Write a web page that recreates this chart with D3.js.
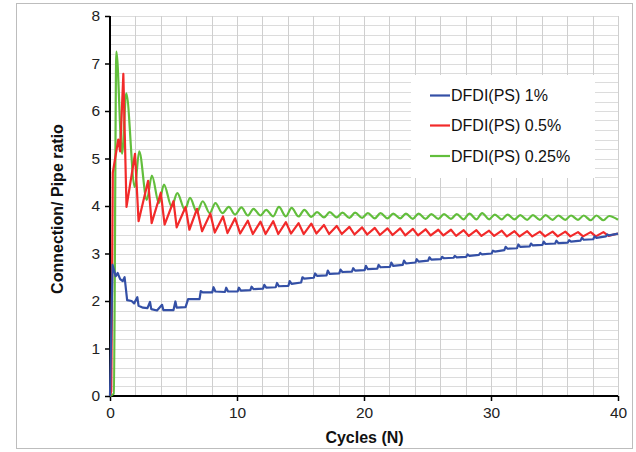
<!DOCTYPE html>
<html><head><meta charset="utf-8">
<script src="https://cdn.jsdelivr.net/npm/d3@7"></script>
<style>body{margin:0;background:#fff}svg{display:block}text{font-family:"Liberation Sans",Arial,sans-serif}</style>
</head><body>
<svg id="c" width="636" height="452"></svg>
<script>
const xTicks = [0, 10, 20, 30, 40];
const yTicks = [0, 1, 2, 3, 4, 5, 6, 7, 8];
const seriesNames = ["DFDI(PS) 1%", "DFDI(PS) 0.5%", "DFDI(PS) 0.25%"];
const seriesColors = ["#3450a6", "#f22a2a", "#62be3c"];

const blue = [[0,0],[0.2,2.76],[0.45,2.52],[0.6,2.59],[0.8,2.46],[1.0,2.42],[1.15,2.5],[1.35,2.02],[1.7,2.0],[1.9,1.95],[2.15,2.08],[2.25,1.9],[2.6,1.86],[2.95,1.85],[3.15,1.98],[3.25,1.83],[3.7,1.8],[4.1,1.92],[4.2,1.81],[5.0,1.81],[5.15,1.99],[5.25,1.86],[5.95,1.87],[6.15,2.04],[7.05,2.04],[7.15,2.21],[7.3,2.18],[8.05,2.18],[8.15,2.29],[8.3,2.2],[9.05,2.19],[9.15,2.28],[9.3,2.2],[10.05,2.2],[10.15,2.28],[10.3,2.22],[11.05,2.23],[11.15,2.3],[11.3,2.25],[12.05,2.26],[12.15,2.34],[12.3,2.28],[13.05,2.29],[13.15,2.38],[13.3,2.31],[14.05,2.32],[14.15,2.42],[14.3,2.36],[15.05,2.39],[15.15,2.5],[15.3,2.47],[16.05,2.49],[16.15,2.58],[16.3,2.53],[17.05,2.54],[17.15,2.64],[17.3,2.57],[18.05,2.58],[18.15,2.66],[18.3,2.61],[19.05,2.62],[19.15,2.69],[19.3,2.64],[20.05,2.65],[20.15,2.74],[20.3,2.67],[21.05,2.68],[21.15,2.76],[21.3,2.71],[22.05,2.72],[22.15,2.81],[22.3,2.74],[23.05,2.76],[23.15,2.85],[23.3,2.79],[24.05,2.81],[24.15,2.88],[24.3,2.83],[25.05,2.85],[25.15,2.92],[25.3,2.87],[26.05,2.88],[26.15,2.93],[26.3,2.9],[27.05,2.91],[27.15,2.95],[27.3,2.92],[28.05,2.93],[28.15,2.98],[28.3,2.95],[29.05,2.97],[29.15,3.01],[29.3,2.98],[30.05,3.0],[30.15,3.06],[30.3,3.04],[31.05,3.07],[31.15,3.14],[31.3,3.1],[32.05,3.11],[32.15,3.19],[32.3,3.14],[33.05,3.15],[33.15,3.21],[33.3,3.17],[34.05,3.18],[34.15,3.25],[34.3,3.2],[35.05,3.21],[35.15,3.27],[35.3,3.22],[36.05,3.23],[36.15,3.28],[36.3,3.25],[37.05,3.27],[37.15,3.33],[37.3,3.29],[38.05,3.3],[38.15,3.36],[38.3,3.33],[39.05,3.36],[39.15,3.4],[39.3,3.38],[40,3.42]];

const red = [[0,0],[0.1,0.1],[0.22,4.7],[0.65,5.4],[0.8,5.15],[1.05,6.78],[1.3,3.98],[1.97,5.1],[2.25,3.68],[3.0,4.53],[3.28,3.64],[4.0,4.28],[4.3,3.61],[5.0,4.1],[5.25,3.55],[5.95,3.98],[6.25,3.5],[6.85,3.94],[7.25,3.47],[7.9,3.84],[8.25,3.44],[8.9,3.78],[9.25,3.43],[9.85,3.74],[10.25,3.42],[10.85,3.69],[11.25,3.41],[11.85,3.67],[12.25,3.41],[12.85,3.68],[13.25,3.41],[13.85,3.66],[14.25,3.42],[14.85,3.64],[15.25,3.41],[15.85,3.63],[16.25,3.42],[16.85,3.6],[17.25,3.41],[17.85,3.58],[18.25,3.41],[18.85,3.56],[19.25,3.4],[19.85,3.55],[20.25,3.4],[20.85,3.54],[21.25,3.39],[21.85,3.53],[22.25,3.39],[22.85,3.53],[23.25,3.38],[23.85,3.52],[24.25,3.38],[24.85,3.51],[25.25,3.38],[25.85,3.5],[26.25,3.38],[26.85,3.5],[27.25,3.37],[27.85,3.49],[28.25,3.37],[28.85,3.49],[29.25,3.37],[29.85,3.48],[30.25,3.37],[30.85,3.48],[31.25,3.36],[31.85,3.47],[32.25,3.36],[32.85,3.47],[33.25,3.36],[33.85,3.46],[34.25,3.36],[34.85,3.46],[35.25,3.36],[35.85,3.46],[36.25,3.36],[36.85,3.45],[37.25,3.36],[37.85,3.45],[38.25,3.36],[38.85,3.45],[39.25,3.37],[40,3.42]];

const green = [[0,0],[0.3,0.05],[0.5,7.25],[0.95,5.1],[1.28,6.37],[1.95,4.4],[2.3,5.15],[2.9,4.13],[3.3,4.64],[3.85,4.06],[4.25,4.45],[4.85,3.99],[5.3,4.27],[5.9,3.92],[6.3,4.17],[6.85,3.87],[7.3,4.1],[7.85,3.85],[8.3,4.06],[8.85,3.85],[9.35,3.98],[9.85,3.82],[10.35,3.97],[10.85,3.8],[11.3,3.94],[11.85,3.8],[12.3,3.92],[12.85,3.78],[13.3,3.98],[13.85,3.78],[14.3,3.96],[14.85,3.78],[15.3,3.92],[15.85,3.77],[16.3,3.87],[16.85,3.76],[17.3,3.87],[17.85,3.76],[18.3,3.86],[18.85,3.75],[19.3,3.86],[19.85,3.75],[20.3,3.85],[20.85,3.74],[21.3,3.85],[21.85,3.74],[22.3,3.84],[22.85,3.74],[23.3,3.84],[23.85,3.73],[24.3,3.84],[24.85,3.73],[25.3,3.83],[25.85,3.73],[26.3,3.83],[26.85,3.73],[27.3,3.83],[27.85,3.72],[28.3,3.84],[28.85,3.72],[29.3,3.85],[29.85,3.72],[30.3,3.82],[30.85,3.72],[31.3,3.82],[31.85,3.72],[32.3,3.81],[32.85,3.71],[33.3,3.81],[33.85,3.71],[34.3,3.81],[34.85,3.71],[35.3,3.8],[35.85,3.71],[36.3,3.8],[36.85,3.71],[37.3,3.8],[37.85,3.7],[38.3,3.8],[38.85,3.7],[39.3,3.79],[40,3.71]];

const svg = d3.select("#c");
const x = d3.scaleLinear().domain([0, 40]).range([110, 618]);
const y = d3.scaleLinear().domain([0, 8]).range([396, 16]);

// outer border
svg.append("rect").attr("x", 16.5).attr("y", 3.5).attr("width", 616).attr("height", 445)
  .attr("fill", "#fff").attr("stroke", "#bdbdbd").attr("stroke-width", 1);

// grid
const g = svg.append("g");
g.selectAll(".hm").data(d3.range(1, 41).map(i => i * 0.2)).join("line")
  .attr("x1", x(0)).attr("x2", x(40))
  .attr("y1", d => Math.round(y(d)) + 0.5).attr("y2", d => Math.round(y(d)) + 0.5)
  .attr("stroke", "#dcdcdc").attr("stroke-width", 1);
g.selectAll(".vm").data(d3.range(1, 21).map(i => i * 2)).join("line")
  .attr("y1", y(0)).attr("y2", y(8))
  .attr("x1", d => Math.round(x(d)) + 0.5).attr("x2", d => Math.round(x(d)) + 0.5)
  .attr("stroke", "#cfcfcf").attr("stroke-width", 1);

// axes
const yAxis = svg.append("g").attr("transform", `translate(${x(0)},0)`)
  .call(d3.axisLeft(y).tickValues(yTicks).tickSize(5).tickPadding(5).tickFormat(d3.format("d")));
const xAxis = svg.append("g").attr("transform", `translate(0,${y(0)})`)
  .call(d3.axisBottom(x).tickValues(xTicks).tickSize(5).tickPadding(6).tickFormat(d3.format("d")));
[yAxis, xAxis].forEach(a => {
  a.select(".domain").attr("stroke", "#000").attr("stroke-width", 2);
  a.selectAll(".tick line").attr("stroke", "#000").attr("stroke-width", 1.5);
  a.selectAll("text").attr("font-size", 15.5).attr("fill", "#222")
    .attr("font-family", "'Liberation Sans',Arial,sans-serif");
});
yAxis.select(".domain").attr("d", `M0,${y(8)}V${y(0)}`);
xAxis.select(".domain").attr("d", `M${x(0)},0H${x(40)}`);

// lines
const series = [blue, red, green];
const lineSharp = d3.line().x(d => x(d[0])).y(d => y(d[1]));
const lineSmooth = d3.line().x(d => x(d[0])).y(d => y(d[1])).curve(d3.curveMonotoneX);
svg.append("g").selectAll("path").data([2, 1, 0]).join("path")
  .attr("d", i => (i === 2 ? lineSmooth : lineSharp)(series[i]))
  .attr("fill", "none").attr("stroke", i => seriesColors[i])
  .attr("stroke-width", 2.2).attr("stroke-linejoin", "round");

// legend
const lg = svg.append("g");
lg.append("rect").attr("x", 411).attr("y", 75).attr("width", 184).attr("height", 103).attr("fill", "#fff");
const ly = [95.5, 125.5, 156];
seriesNames.forEach((n, i) => {
  lg.append("line").attr("x1", 430).attr("x2", 450).attr("y1", ly[i]).attr("y2", ly[i])
    .attr("stroke", seriesColors[i]).attr("stroke-width", 2.2);
  lg.append("text").attr("x", 451).attr("y", ly[i]).attr("dy", "0.35em")
    .attr("font-size", 16).attr("fill", "#111").text(n);
});

// axis titles
svg.append("text").attr("x", 364.5).attr("y", 443).attr("text-anchor", "middle")
  .attr("font-size", 16).attr("font-weight", "bold").attr("fill", "#111").text("Cycles (N)");
svg.append("text").attr("transform", "translate(63,209) rotate(-90)").attr("text-anchor", "middle")
  .attr("font-size", 16).attr("font-weight", "bold").attr("fill", "#111").text("Connection/ Pipe ratio");
</script>
</body></html>
